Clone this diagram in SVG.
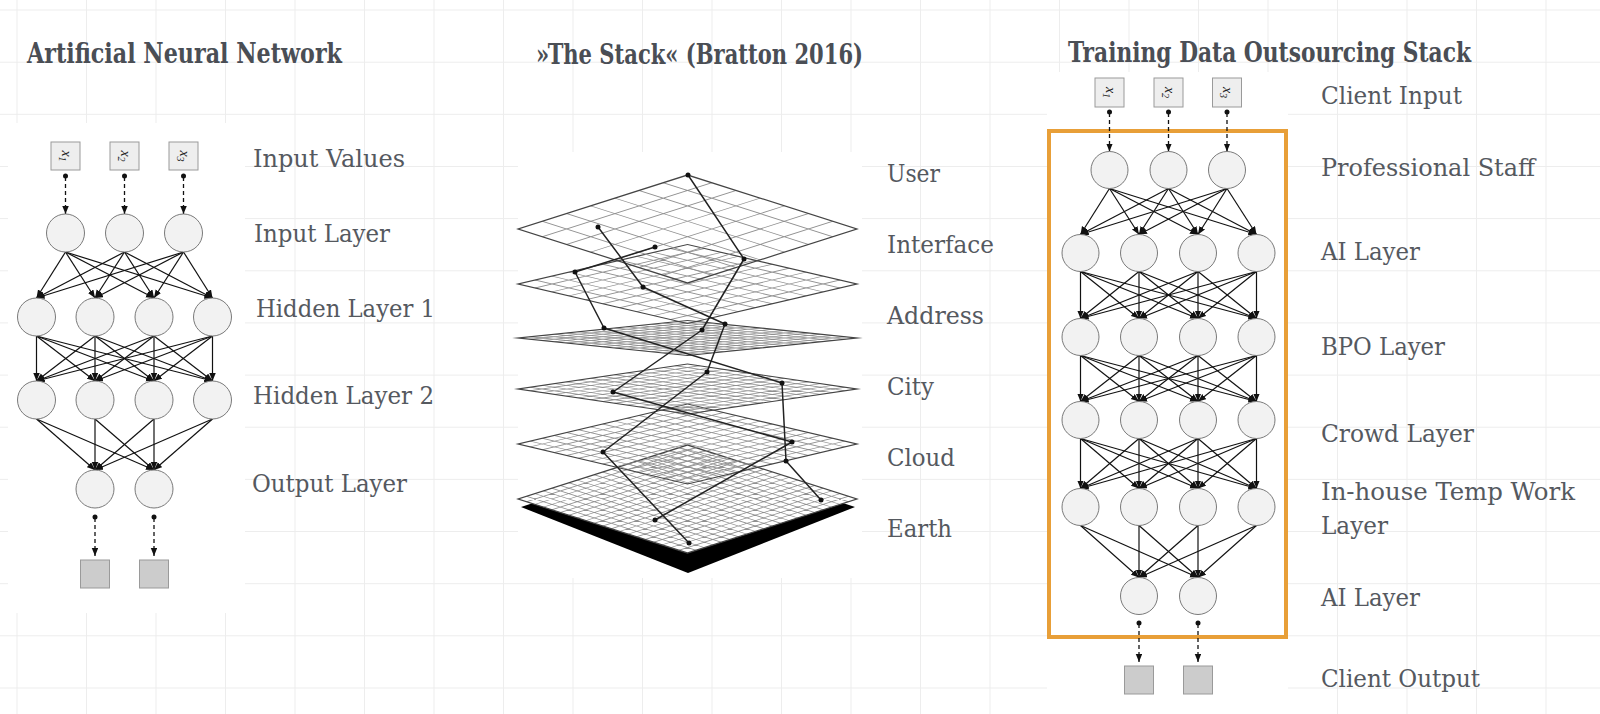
<svg xmlns="http://www.w3.org/2000/svg" xmlns:xlink="http://www.w3.org/1999/xlink" width="1600" height="714" viewBox="0 0 1600 714">
<style>
.lbl{font-family:"DejaVu Serif","Liberation Serif",serif;font-size:24.5px;fill:#55595f;font-stretch:condensed}
.ttl{font-family:"DejaVu Serif","Liberation Serif",serif;font-size:27.5px;font-weight:bold;fill:#4a4e55}
.nd{fill:#f2f2f2;stroke:#7a7a7a;stroke-width:1}
.inb{fill:#eeeeee;stroke:#9a9a9a;stroke-width:1}
.outb{fill:#cccccc;stroke:#9a9a9a;stroke-width:1}
.xs{font-family:"Liberation Serif",serif;font-style:italic;font-size:14px;fill:#222}
.e line{stroke:#111;stroke-width:1.2;marker-end:url(#arr)}
.d line{stroke:#111;stroke-width:1.3;stroke-dasharray:4 3;marker-end:url(#arr)}
.dot{fill:#111}
.bg{stroke:#ededed;stroke-width:1;fill:none}
.gu{fill:none;stroke:#909090}
.ou{fill:none;stroke:#444}
.sl{fill:none;stroke:#222;stroke-width:1.5;stroke-linejoin:round}
</style>
<defs>
<marker id="arr" markerUnits="userSpaceOnUse" markerWidth="9" markerHeight="7" refX="8" refY="3.25" orient="auto">
<path d="M0,0 L8,3.25 L0,6.5 z" fill="#111"/>
</marker>
<path id="g7" d="M14.29 0V100M28.57 0V100M42.86 0V100M57.14 0V100M71.43 0V100M85.71 0V100M0 14.29H100M0 28.57H100M0 42.86H100M0 57.14H100M0 71.43H100M0 85.71H100"/>
<path id="g10" d="M10 0V100M20 0V100M30 0V100M40 0V100M50 0V100M60 0V100M70 0V100M80 0V100M90 0V100M0 10H100M0 20H100M0 30H100M0 40H100M0 50H100M0 60H100M0 70H100M0 80H100M0 90H100"/>
<path id="g14" d="M7.14 0V100M14.29 0V100M21.43 0V100M28.57 0V100M35.71 0V100M42.86 0V100M50 0V100M57.14 0V100M64.29 0V100M71.43 0V100M78.57 0V100M85.71 0V100M92.86 0V100M0 7.14H100M0 14.29H100M0 21.43H100M0 28.57H100M0 35.71H100M0 42.86H100M0 50H100M0 57.14H100M0 64.29H100M0 71.43H100M0 78.57H100M0 85.71H100M0 92.86H100"/>
<path id="g20" d="M5 0V100M10 0V100M15 0V100M20 0V100M25 0V100M30 0V100M35 0V100M40 0V100M45 0V100M50 0V100M55 0V100M60 0V100M65 0V100M70 0V100M75 0V100M80 0V100M85 0V100M90 0V100M95 0V100M0 5H100M0 10H100M0 15H100M0 20H100M0 25H100M0 30H100M0 35H100M0 40H100M0 45H100M0 50H100M0 55H100M0 60H100M0 65H100M0 70H100M0 75H100M0 80H100M0 85H100M0 90H100M0 95H100"/>
<path id="sq" d="M0 0H100V100H0Z"/>
</defs>
<rect x="0" y="0" width="1600" height="714" fill="#ffffff"/>
<path class="bg" d="M17 0V714M86.5 0V714M156 0V714M225.5 0V714M295 0V714M364.5 0V714M434 0V714M503.5 0V714M573 0V714M642.5 0V714M712 0V714M781.5 0V714M851 0V714M920.5 0V714M990 0V714M1059.5 0V714M1129 0V714M1198.5 0V714M1268 0V714M1337.5 0V714M1407 0V714M1476.5 0V714M1546 0V714M0 10H1600M0 62.2H1600M0 114.3H1600M0 166.5H1600M0 218.6H1600M0 270.8H1600M0 322.9H1600M0 375.1H1600M0 427.2H1600M0 479.4H1600M0 531.5H1600M0 583.7H1600M0 635.8H1600M0 688H1600"/>
<rect x="8" y="123" width="237" height="490" fill="#ffffff"/>
<rect x="518" y="152" width="344" height="426" fill="#ffffff"/>
<rect x="1047" y="72" width="241" height="642" fill="#ffffff"/>

<g id="titles">
<text class="ttl" x="27" y="63" textLength="315" lengthAdjust="spacingAndGlyphs">Artificial Neural Network</text>
<text class="ttl" x="536" y="64" textLength="327" lengthAdjust="spacingAndGlyphs">»The Stack« (Bratton 2016)</text>
<text class="ttl" x="1068" y="62" textLength="403" lengthAdjust="spacingAndGlyphs">Training Data Outsourcing Stack</text>
</g>

<g id="ann-labels">
<text class="lbl" x="253" y="167" textLength="152" lengthAdjust="spacingAndGlyphs">Input Values</text>
<text class="lbl" x="254" y="242" textLength="136" lengthAdjust="spacingAndGlyphs">Input Layer</text>
<text class="lbl" x="256" y="317" textLength="179" lengthAdjust="spacingAndGlyphs">Hidden Layer 1</text>
<text class="lbl" x="253" y="404" textLength="181" lengthAdjust="spacingAndGlyphs">Hidden Layer 2</text>
<text class="lbl" x="252" y="492" textLength="155" lengthAdjust="spacingAndGlyphs">Output Layer</text>
</g>

<g id="stack-labels">
<text class="lbl" x="887" y="182" textLength="53" lengthAdjust="spacingAndGlyphs">User</text>
<text class="lbl" x="887" y="253" textLength="107" lengthAdjust="spacingAndGlyphs">Interface</text>
<text class="lbl" x="887" y="324" textLength="97" lengthAdjust="spacingAndGlyphs">Address</text>
<text class="lbl" x="887" y="395" textLength="47" lengthAdjust="spacingAndGlyphs">City</text>
<text class="lbl" x="887" y="466" textLength="68" lengthAdjust="spacingAndGlyphs">Cloud</text>
<text class="lbl" x="887" y="537" textLength="65" lengthAdjust="spacingAndGlyphs">Earth</text>
</g>

<g id="tdos-labels">
<text class="lbl" x="1321" y="104" textLength="141" lengthAdjust="spacingAndGlyphs">Client Input</text>
<text class="lbl" x="1321" y="176" textLength="214" lengthAdjust="spacingAndGlyphs">Professional Staff</text>
<text class="lbl" x="1321" y="260" textLength="99" lengthAdjust="spacingAndGlyphs">AI Layer</text>
<text class="lbl" x="1321" y="355" textLength="124" lengthAdjust="spacingAndGlyphs">BPO Layer</text>
<text class="lbl" x="1321" y="442" textLength="153" lengthAdjust="spacingAndGlyphs">Crowd Layer</text>
<text class="lbl" x="1321" y="500" textLength="254" lengthAdjust="spacingAndGlyphs">In-house Temp Work</text>
<text class="lbl" x="1321" y="534" textLength="67" lengthAdjust="spacingAndGlyphs">Layer</text>
<text class="lbl" x="1321" y="606" textLength="99" lengthAdjust="spacingAndGlyphs">AI Layer</text>
<text class="lbl" x="1321" y="687" textLength="159" lengthAdjust="spacingAndGlyphs">Client Output</text>
</g>

<!-- The Stack -->
<g id="stack">
<polygon points="521,507 688,452 855,507 688,573" fill="#000"/>
<g id="plane-earth" transform="matrix(1.695 0.54 -1.695 0.54 687.5 445)">
<use xlink:href="#sq" fill="#ffffff"/>
<use xlink:href="#g20" class="gu" stroke-width="0.75"/><use xlink:href="#sq" class="ou" stroke-width="1.17"/>
</g>
<g id="plane-cloud" transform="matrix(1.695 0.40 -1.695 0.40 687.5 404)"><use xlink:href="#g14" class="gu" stroke-width="1.0"/><use xlink:href="#sq" class="ou" stroke-width="1.54"/></g>
<g id="plane-city" transform="matrix(1.695 0.25 -1.695 0.25 687.5 364)"><use xlink:href="#g14" class="gu" stroke-width="1.5"/><use xlink:href="#sq" class="ou" stroke-width="2.43"/></g>
<g id="plane-address" transform="matrix(1.695 0.175 -1.695 0.175 687.5 320.5)"><use xlink:href="#g14" class="gu" stroke-width="2.0"/><use xlink:href="#sq" class="ou" stroke-width="3.45"/></g>
<g id="plane-interface" transform="matrix(1.695 0.395 -1.695 0.395 687.5 244.5)"><use xlink:href="#g10" class="gu" stroke-width="1.1"/><use xlink:href="#sq" class="ou" stroke-width="1.56"/></g>
<g id="plane-user" transform="matrix(1.695 0.54 -1.695 0.54 687.5 175)"><use xlink:href="#g7" class="gu" stroke-width="0.85"/><use xlink:href="#sq" class="ou" stroke-width="1.17"/></g>
</g>
<g id="stack-connectors">
<polyline class="sl" points="688,175 744,259 702,330 613,392 792,442 655,520"/>
<polyline class="sl" points="598,227 643,287 725,324 707,372 603,452 689,543"/>
<polyline class="sl" points="655,247 575,272 604,328 782,383 786,461 821,500"/>
<g class="dot">
<circle cx="688" cy="175" r="2.5"/><circle cx="744" cy="259" r="2.5"/><circle cx="702" cy="330" r="2.5"/><circle cx="613" cy="392" r="2.5"/><circle cx="792" cy="442" r="2.5"/><circle cx="655" cy="520" r="2.5"/>
<circle cx="598" cy="227" r="2.5"/><circle cx="643" cy="287" r="2.5"/><circle cx="725" cy="324" r="2.5"/><circle cx="707" cy="372" r="2.5"/><circle cx="603" cy="452" r="2.5"/><circle cx="689" cy="543" r="2.5"/>
<circle cx="655" cy="247" r="2.5"/><circle cx="575" cy="272" r="2.5"/><circle cx="604" cy="328" r="2.5"/><circle cx="782" cy="383" r="2.5"/><circle cx="786" cy="461" r="2.5"/><circle cx="821" cy="500" r="2.5"/>
</g>
</g>

<!-- ANN connectors -->
<g id="ann-connectors">
<g class="e">
<line x1="65.5" y1="252" x2="36.5" y2="298"/><line x1="65.5" y1="252" x2="95" y2="298"/><line x1="65.5" y1="252" x2="154" y2="298"/><line x1="65.5" y1="252" x2="212.5" y2="298"/>
<line x1="124.5" y1="252" x2="36.5" y2="298"/><line x1="124.5" y1="252" x2="95" y2="298"/><line x1="124.5" y1="252" x2="154" y2="298"/><line x1="124.5" y1="252" x2="212.5" y2="298"/>
<line x1="183.5" y1="252" x2="36.5" y2="298"/><line x1="183.5" y1="252" x2="95" y2="298"/><line x1="183.5" y1="252" x2="154" y2="298"/><line x1="183.5" y1="252" x2="212.5" y2="298"/>
<line x1="36.5" y1="336" x2="36.5" y2="381"/><line x1="36.5" y1="336" x2="95" y2="381"/><line x1="36.5" y1="336" x2="154" y2="381"/><line x1="36.5" y1="336" x2="212.5" y2="381"/>
<line x1="95" y1="336" x2="36.5" y2="381"/><line x1="95" y1="336" x2="95" y2="381"/><line x1="95" y1="336" x2="154" y2="381"/><line x1="95" y1="336" x2="212.5" y2="381"/>
<line x1="154" y1="336" x2="36.5" y2="381"/><line x1="154" y1="336" x2="95" y2="381"/><line x1="154" y1="336" x2="154" y2="381"/><line x1="154" y1="336" x2="212.5" y2="381"/>
<line x1="212.5" y1="336" x2="36.5" y2="381"/><line x1="212.5" y1="336" x2="95" y2="381"/><line x1="212.5" y1="336" x2="154" y2="381"/><line x1="212.5" y1="336" x2="212.5" y2="381"/>
<line x1="36.5" y1="419" x2="95" y2="470"/><line x1="36.5" y1="419" x2="154" y2="470"/>
<line x1="95" y1="419" x2="95" y2="470"/><line x1="95" y1="419" x2="154" y2="470"/>
<line x1="154" y1="419" x2="95" y2="470"/><line x1="154" y1="419" x2="154" y2="470"/>
<line x1="212.5" y1="419" x2="95" y2="470"/><line x1="212.5" y1="419" x2="154" y2="470"/>
</g>
<g class="d">
<line x1="65.5" y1="177" x2="65.5" y2="214"/><line x1="124.5" y1="177" x2="124.5" y2="214"/><line x1="183.5" y1="177" x2="183.5" y2="214"/>
<line x1="95" y1="518" x2="95" y2="556"/><line x1="154" y1="518" x2="154" y2="556"/>
</g>
<g class="dot">
<circle cx="65.5" cy="176" r="2.5"/><circle cx="124.5" cy="176" r="2.5"/><circle cx="183.5" cy="176" r="2.5"/>
<circle cx="95" cy="517" r="2.5"/><circle cx="154" cy="517" r="2.5"/>
</g>
</g>

<!-- ANN nodes -->
<g id="ann-x1"><rect class="inb" x="51" y="142" width="29" height="28"/><text class="xs" transform="translate(65.5,156) rotate(90)" x="0" y="4" text-anchor="middle">x<tspan dy="3" font-size="10">1</tspan></text></g>
<g id="ann-x2"><rect class="inb" x="110" y="142" width="29" height="28"/><text class="xs" transform="translate(124.5,156) rotate(90)" x="0" y="4" text-anchor="middle">x<tspan dy="3" font-size="10">2</tspan></text></g>
<g id="ann-x3"><rect class="inb" x="169" y="142" width="29" height="28"/><text class="xs" transform="translate(183.5,156) rotate(90)" x="0" y="4" text-anchor="middle">x<tspan dy="3" font-size="10">3</tspan></text></g>
<g id="ann-in1"><circle class="nd" cx="65.5" cy="233" r="19"/></g>
<g id="ann-in2"><circle class="nd" cx="124.5" cy="233" r="19"/></g>
<g id="ann-in3"><circle class="nd" cx="183.5" cy="233" r="19"/></g>
<g id="ann-h1a"><circle class="nd" cx="36.5" cy="317" r="19"/></g>
<g id="ann-h1b"><circle class="nd" cx="95" cy="317" r="19"/></g>
<g id="ann-h1c"><circle class="nd" cx="154" cy="317" r="19"/></g>
<g id="ann-h1d"><circle class="nd" cx="212.5" cy="317" r="19"/></g>
<g id="ann-h2a"><circle class="nd" cx="36.5" cy="400" r="19"/></g>
<g id="ann-h2b"><circle class="nd" cx="95" cy="400" r="19"/></g>
<g id="ann-h2c"><circle class="nd" cx="154" cy="400" r="19"/></g>
<g id="ann-h2d"><circle class="nd" cx="212.5" cy="400" r="19"/></g>
<g id="ann-o1"><circle class="nd" cx="95" cy="489" r="19"/></g>
<g id="ann-o2"><circle class="nd" cx="154" cy="489" r="19"/></g>
<g id="ann-y1"><rect class="outb" x="80.5" y="560" width="29" height="28"/></g>
<g id="ann-y2"><rect class="outb" x="139.5" y="560" width="29" height="28"/></g>

<!-- Training data outsourcing stack -->
<g id="tdos-frame"><rect x="1049" y="131" width="237" height="506" fill="none" stroke="#e89f38" stroke-width="4"/></g>
<g id="tdos-connectors">
<g class="e">
<line x1="1109.5" y1="188.5" x2="1080.5" y2="234.5"/><line x1="1109.5" y1="188.5" x2="1139" y2="234.5"/><line x1="1109.5" y1="188.5" x2="1198" y2="234.5"/><line x1="1109.5" y1="188.5" x2="1256.5" y2="234.5"/>
<line x1="1168.5" y1="188.5" x2="1080.5" y2="234.5"/><line x1="1168.5" y1="188.5" x2="1139" y2="234.5"/><line x1="1168.5" y1="188.5" x2="1198" y2="234.5"/><line x1="1168.5" y1="188.5" x2="1256.5" y2="234.5"/>
<line x1="1227" y1="188.5" x2="1080.5" y2="234.5"/><line x1="1227" y1="188.5" x2="1139" y2="234.5"/><line x1="1227" y1="188.5" x2="1198" y2="234.5"/><line x1="1227" y1="188.5" x2="1256.5" y2="234.5"/>

<line x1="1080.5" y1="271.5" x2="1080.5" y2="318.5"/><line x1="1080.5" y1="271.5" x2="1139" y2="318.5"/><line x1="1080.5" y1="271.5" x2="1198" y2="318.5"/><line x1="1080.5" y1="271.5" x2="1256.5" y2="318.5"/>
<line x1="1139" y1="271.5" x2="1080.5" y2="318.5"/><line x1="1139" y1="271.5" x2="1139" y2="318.5"/><line x1="1139" y1="271.5" x2="1198" y2="318.5"/><line x1="1139" y1="271.5" x2="1256.5" y2="318.5"/>
<line x1="1198" y1="271.5" x2="1080.5" y2="318.5"/><line x1="1198" y1="271.5" x2="1139" y2="318.5"/><line x1="1198" y1="271.5" x2="1198" y2="318.5"/><line x1="1198" y1="271.5" x2="1256.5" y2="318.5"/>
<line x1="1256.5" y1="271.5" x2="1080.5" y2="318.5"/><line x1="1256.5" y1="271.5" x2="1139" y2="318.5"/><line x1="1256.5" y1="271.5" x2="1198" y2="318.5"/><line x1="1256.5" y1="271.5" x2="1256.5" y2="318.5"/>

<line x1="1080.5" y1="355.5" x2="1080.5" y2="401.5"/><line x1="1080.5" y1="355.5" x2="1139" y2="401.5"/><line x1="1080.5" y1="355.5" x2="1198" y2="401.5"/><line x1="1080.5" y1="355.5" x2="1256.5" y2="401.5"/>
<line x1="1139" y1="355.5" x2="1080.5" y2="401.5"/><line x1="1139" y1="355.5" x2="1139" y2="401.5"/><line x1="1139" y1="355.5" x2="1198" y2="401.5"/><line x1="1139" y1="355.5" x2="1256.5" y2="401.5"/>
<line x1="1198" y1="355.5" x2="1080.5" y2="401.5"/><line x1="1198" y1="355.5" x2="1139" y2="401.5"/><line x1="1198" y1="355.5" x2="1198" y2="401.5"/><line x1="1198" y1="355.5" x2="1256.5" y2="401.5"/>
<line x1="1256.5" y1="355.5" x2="1080.5" y2="401.5"/><line x1="1256.5" y1="355.5" x2="1139" y2="401.5"/><line x1="1256.5" y1="355.5" x2="1198" y2="401.5"/><line x1="1256.5" y1="355.5" x2="1256.5" y2="401.5"/>

<line x1="1080.5" y1="438.5" x2="1080.5" y2="488.5"/><line x1="1080.5" y1="438.5" x2="1139" y2="488.5"/><line x1="1080.5" y1="438.5" x2="1198" y2="488.5"/><line x1="1080.5" y1="438.5" x2="1256.5" y2="488.5"/>
<line x1="1139" y1="438.5" x2="1080.5" y2="488.5"/><line x1="1139" y1="438.5" x2="1139" y2="488.5"/><line x1="1139" y1="438.5" x2="1198" y2="488.5"/><line x1="1139" y1="438.5" x2="1256.5" y2="488.5"/>
<line x1="1198" y1="438.5" x2="1080.5" y2="488.5"/><line x1="1198" y1="438.5" x2="1139" y2="488.5"/><line x1="1198" y1="438.5" x2="1198" y2="488.5"/><line x1="1198" y1="438.5" x2="1256.5" y2="488.5"/>
<line x1="1256.5" y1="438.5" x2="1080.5" y2="488.5"/><line x1="1256.5" y1="438.5" x2="1139" y2="488.5"/><line x1="1256.5" y1="438.5" x2="1198" y2="488.5"/><line x1="1256.5" y1="438.5" x2="1256.5" y2="488.5"/>

<line x1="1080.5" y1="525.5" x2="1139" y2="577.5"/><line x1="1080.5" y1="525.5" x2="1198" y2="577.5"/>
<line x1="1139" y1="525.5" x2="1139" y2="577.5"/><line x1="1139" y1="525.5" x2="1198" y2="577.5"/>
<line x1="1198" y1="525.5" x2="1139" y2="577.5"/><line x1="1198" y1="525.5" x2="1198" y2="577.5"/>
<line x1="1256.5" y1="525.5" x2="1139" y2="577.5"/><line x1="1256.5" y1="525.5" x2="1198" y2="577.5"/>
</g>
<g class="d">
<line x1="1109.5" y1="113" x2="1109.5" y2="151.5"/><line x1="1168.5" y1="113" x2="1168.5" y2="151.5"/><line x1="1227" y1="113" x2="1227" y2="151.5"/>
<line x1="1139" y1="624" x2="1139" y2="662"/><line x1="1198" y1="624" x2="1198" y2="662"/>
</g>
<g class="dot">
<circle cx="1109.5" cy="112" r="2.5"/><circle cx="1168.5" cy="112" r="2.5"/><circle cx="1227" cy="112" r="2.5"/>
<circle cx="1139" cy="623" r="2.5"/><circle cx="1198" cy="623" r="2.5"/>
</g>
</g>
<g id="tdos-x1"><rect class="inb" x="1095" y="78" width="29" height="29"/><text class="xs" transform="translate(1109.5,92.5) rotate(90)" x="0" y="4" text-anchor="middle">x<tspan dy="3" font-size="10">1</tspan></text></g>
<g id="tdos-x2"><rect class="inb" x="1154" y="78" width="29" height="29"/><text class="xs" transform="translate(1168.5,92.5) rotate(90)" x="0" y="4" text-anchor="middle">x<tspan dy="3" font-size="10">2</tspan></text></g>
<g id="tdos-x3"><rect class="inb" x="1212.5" y="78" width="29" height="29"/><text class="xs" transform="translate(1227,92.5) rotate(90)" x="0" y="4" text-anchor="middle">x<tspan dy="3" font-size="10">3</tspan></text></g>
<g id="tdos-ps1"><circle class="nd" cx="1109.5" cy="170" r="18.5"/></g>
<g id="tdos-ps2"><circle class="nd" cx="1168.5" cy="170" r="18.5"/></g>
<g id="tdos-ps3"><circle class="nd" cx="1227" cy="170" r="18.5"/></g>
<g id="tdos-ai1"><circle class="nd" cx="1080.5" cy="253" r="18.5"/></g>
<g id="tdos-ai2"><circle class="nd" cx="1139" cy="253" r="18.5"/></g>
<g id="tdos-ai3"><circle class="nd" cx="1198" cy="253" r="18.5"/></g>
<g id="tdos-ai4"><circle class="nd" cx="1256.5" cy="253" r="18.5"/></g>
<g id="tdos-bpo1"><circle class="nd" cx="1080.5" cy="337" r="18.5"/></g>
<g id="tdos-bpo2"><circle class="nd" cx="1139" cy="337" r="18.5"/></g>
<g id="tdos-bpo3"><circle class="nd" cx="1198" cy="337" r="18.5"/></g>
<g id="tdos-bpo4"><circle class="nd" cx="1256.5" cy="337" r="18.5"/></g>
<g id="tdos-cr1"><circle class="nd" cx="1080.5" cy="420" r="18.5"/></g>
<g id="tdos-cr2"><circle class="nd" cx="1139" cy="420" r="18.5"/></g>
<g id="tdos-cr3"><circle class="nd" cx="1198" cy="420" r="18.5"/></g>
<g id="tdos-cr4"><circle class="nd" cx="1256.5" cy="420" r="18.5"/></g>
<g id="tdos-ih1"><circle class="nd" cx="1080.5" cy="507" r="18.5"/></g>
<g id="tdos-ih2"><circle class="nd" cx="1139" cy="507" r="18.5"/></g>
<g id="tdos-ih3"><circle class="nd" cx="1198" cy="507" r="18.5"/></g>
<g id="tdos-ih4"><circle class="nd" cx="1256.5" cy="507" r="18.5"/></g>
<g id="tdos-out1"><circle class="nd" cx="1139" cy="596" r="18.5"/></g>
<g id="tdos-out2"><circle class="nd" cx="1198" cy="596" r="18.5"/></g>
<g id="tdos-y1"><rect class="outb" x="1124.5" y="666" width="29" height="28"/></g>
<g id="tdos-y2"><rect class="outb" x="1183.5" y="666" width="29" height="28"/></g>
</svg>
